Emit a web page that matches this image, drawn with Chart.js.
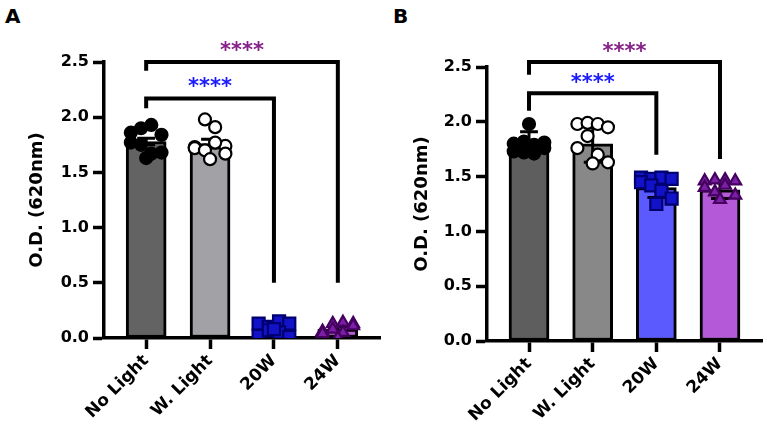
<!DOCTYPE html>
<html>
<head>
<meta charset="utf-8">
<script src="https://cdn.jsdelivr.net/npm/chart.js@4.4.1/dist/chart.umd.min.js"></script>
<style>
  body { margin: 0; background: #fff; width: 767px; height: 434px; position: relative; overflow: hidden; }
  canvas { position: absolute; top: 0; }
  #chA { left: 0; }
  #chB { left: 383px; }
  .tag { position: absolute; top: 6px; font: bold 20px "DejaVu Sans"; line-height: 20px; color: #000; }
</style>
</head>
<body>
<div class="tag" style="left:5px">A</div>
<div class="tag" style="left:393px">B</div>
<canvas id="chA" width="383" height="434"></canvas>
<canvas id="chB" width="384" height="434"></canvas>
<script>
// groups on the x axis
var groups = ['No Light', 'W. Light', '20W', '24W'];

// panel A - bar heights (mean), error (sem) and replicates
var meanA = [1.78, 1.76, 0.08, 0.08];
var errA = [0.03, 0.04, 0.02, 0.02];
var noLightA = [1.86, 1.90, 1.93, 1.84, 1.77, 1.75, 1.67, 1.68, 1.63];
var whiteA = [1.73, 1.98, 1.91, 1.74, 1.72, 1.70, 1.77, 1.67, 1.62];
var w20A = [0.13, 0.10, 0.15, 0.13, 0.02, 0.07, 0.05, 0.01, 0.08];
var w24A = [0.06, 0.13, 0.14, 0.13, 0.04, 0.08, 0.05, 0.11, 0.00];

// panel B
var meanB = [1.80, 1.80, 1.40, 1.38];
var errB = [0.11, 0.17, 0.09, 0.08];
var noLightB = [1.80, 1.82, 1.79, 1.81, 1.73, 1.72, 1.71, 1.76, 1.98];
var whiteB = [1.98, 1.99, 1.98, 1.95, 1.76, 1.87, 1.70, 1.63, 1.62];
var w20B = [1.49, 1.48, 1.49, 1.48, 1.45, 1.42, 1.37, 1.30, 1.25];
var w24B = [1.46, 1.47, 1.47, 1.46, 1.40, 1.36, 1.42, 1.33, 1.29];

// significance brackets: [from group, to group, top, left leg end, right leg end]
var bracketsA = [[0, 3, 2.50, 2.42, 0.50], [0, 2, 2.17, 2.08, 0.50]];
var bracketsB = [[0, 3, 2.545, 2.43, 1.66], [0, 2, 2.26, 2.10, 1.70]];
// star labels: [from, to, level]
var starsA = [[0, 3, 2.645], [0, 2, 2.32]];
var starsB = [[0, 3, 2.69], [0, 2, 2.40]];

var FONT = 'DejaVu Sans';
var barFill = ['#636363', '#a2a2a6', '#5a5aff', '#b45ad8'];
var barFillB = ['#5e5e5e', '#888888', '#5a5aff', '#b45ad8'];
var starColors = ['#86218a', '#1a1aff'];
var spread = [-0.24, -0.08, 0.08, 0.24, -0.24, -0.08, 0.08, 0.24, 0];

function jitter(vals, g) {
  return vals.map(function (v, i) { return { x: g + spread[i % spread.length], y: v }; });
}

var errorBars = {
  id: 'errorBars',
  afterDatasetDraw: function (chart, args, opts) {
    if (args.index !== 0) return;
    var ctx = chart.ctx, x = chart.scales.x, y = chart.scales.y;
    ctx.save();
    ctx.strokeStyle = '#000';
    ctx.lineWidth = 3;
    opts.means.forEach(function (m, i) {
      var e = opts.errs[i];
      var px = x.getPixelForValue(i), hw = x.getPixelForValue(i + 0.14) - px;
      var top = y.getPixelForValue(m + e), bot = y.getPixelForValue(m - e);
      ctx.beginPath();
      ctx.moveTo(px, bot); ctx.lineTo(px, top);
      ctx.moveTo(px - hw, top); ctx.lineTo(px + hw, top);
      ctx.moveTo(px - hw, bot); ctx.lineTo(px + hw, bot);
      ctx.stroke();
    });
    ctx.restore();
  }
};

var starText = {
  id: 'starText',
  afterDraw: function (chart, args, opts) {
    var ctx = chart.ctx, x = chart.scales.x, y = chart.scales.y;
    ctx.save();
    ctx.font = 'bold 21px "' + FONT + '"';
    ctx.textAlign = 'center';
    ctx.textBaseline = 'alphabetic';
    opts.stars.forEach(function (s, i) {
      var px = (x.getPixelForValue(s[0]) + x.getPixelForValue(s[1])) / 2;
      ctx.fillStyle = starColors[i];
      ctx.fillText('****', px, y.getPixelForValue(s[2]) + 0.54 * 21);
    });
    ctx.restore();
  }
};

function makeChart(id, means, errs, reps, brackets, stars, fills, lay) {
  var datasets = [{
    type: 'bar',
    data: means.map(function (m, i) { return { x: i, y: m }; }),
    backgroundColor: fills,
    borderColor: '#000',
    borderWidth: 3,
    borderSkipped: false,
    barThickness: 40,
    order: 3
  }];
  var ptStyle = [
    { pointStyle: 'circle', pointRadius: 6, backgroundColor: '#000', borderColor: '#000' },
    { pointStyle: 'circle', pointRadius: 6, backgroundColor: '#fff', borderColor: '#000' },
    { pointStyle: 'rect', pointRadius: 8.5, backgroundColor: '#1212c8', borderColor: '#000070' },
    { pointStyle: 'triangle', pointRadius: 6.8, backgroundColor: '#7a1fa6', borderColor: '#45005f' }
  ];
  reps.forEach(function (vals, g) {
    var s = ptStyle[g];
    datasets.push({
      type: 'scatter', data: jitter(vals, g), pointStyle: s.pointStyle, pointRadius: s.pointRadius,
      backgroundColor: s.backgroundColor, borderColor: s.borderColor, pointBorderWidth: 2.2, order: 1
    });
  });
  brackets.forEach(function (b) {
    datasets.push({
      type: 'line',
      data: [{ x: b[0], y: b[3] }, { x: b[0], y: b[2] }, { x: b[1], y: b[2] }, { x: b[1], y: b[4] }],
      borderColor: '#000', borderWidth: 4, pointRadius: 0, tension: 0, clip: false,
      borderJoinStyle: 'miter', borderCapStyle: 'butt', fill: false, order: 0
    });
  });

  var tickFont = { family: FONT, size: 16, weight: 'bold' };
  return new Chart(document.getElementById(id), {
    type: 'bar',
    data: { datasets: datasets },
    plugins: [errorBars, starText],
    options: {
      responsive: false,
      animation: false,
      layout: { autoPadding: false, padding: { top: lay.top, right: lay.right, left: 0, bottom: 0 } },
      plugins: {
        legend: { display: false },
        tooltip: { enabled: false },
        errorBars: { means: means, errs: errs },
        starText: { stars: stars }
      },
      scales: {
        x: {
          type: 'linear', min: -0.66, max: 3.66, offset: false,
          afterBuildTicks: function (s) { s.ticks = groups.map(function (g, i) { return { value: i }; }); },
          afterFit: function (s) { s.height = lay.xh; s.paddingRight = 0; s.paddingLeft = 0; },
          grid: { offset: false, drawOnChartArea: false, drawTicks: true, tickLength: 11, tickWidth: 3.5, tickColor: '#000' },
          border: { display: true, color: '#000', width: 3.5 },
          ticks: {
            autoSkip: false, maxRotation: 45, minRotation: 45, padding: 2, color: '#000',
            font: { family: FONT, size: 17, weight: 'bold' },
            callback: function (v) { return groups[v]; }
          }
        },
        y: {
          min: 0, max: 2.5,
          afterFit: function (s) { s.width = 104; },
          grid: { drawOnChartArea: false, drawTicks: true, tickLength: 11, tickWidth: 3.5, tickColor: '#000' },
          border: { display: true, color: '#000', width: 3.5 },
          ticks: { stepSize: 0.5, padding: 4, color: '#000', font: tickFont, callback: function (v) { return v.toFixed(1); } },
          title: { display: true, text: 'O.D. (620nm)', color: '#000', font: { family: FONT, size: 18, weight: 'bold' }, padding: { top: lay.tp, bottom: 0 } }
        }
      }
    }
  });
}

makeChart('chA', meanA, errA, [noLightA, whiteA, w20A, w24A], bracketsA, starsA, barFill,
  { top: 62, right: 3, xh: 96, tp: 27 });
makeChart('chB', meanB, errB, [noLightB, whiteB, w20B, w24B], bracketsB, starsB, barFillB,
  { top: 67, right: 5, xh: 93, tp: 29 });
</script>
</body>
</html>
